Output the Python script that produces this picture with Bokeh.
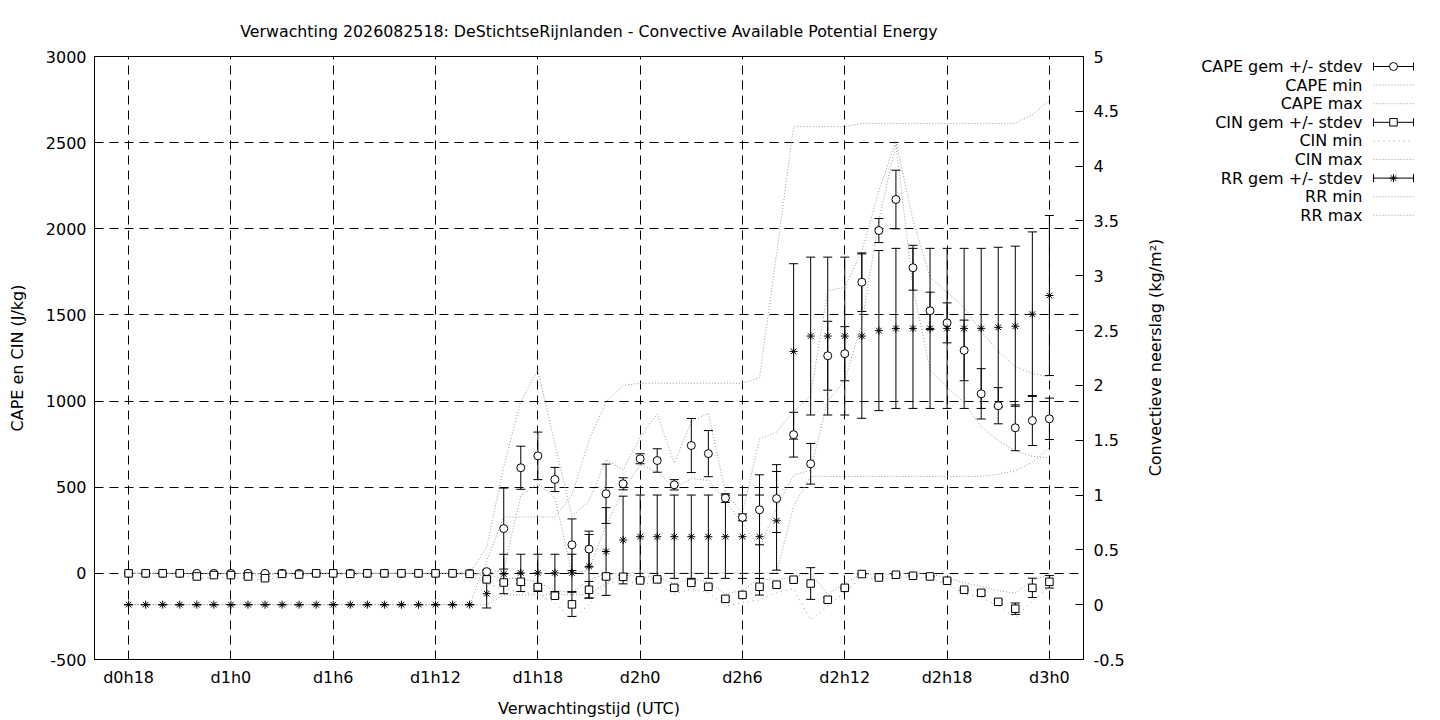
"""Ensemble forecast plot: CAPE, CIN and convective rain."""
from math import pi

from bokeh.core.properties import value
from bokeh.embed import file_html
from bokeh.layouts import row
from bokeh.models import ColumnDataSource, FixedTicker, LinearAxis, Range1d
from bokeh.plotting import figure
from bokeh.resources import INLINE

TITLE = ("Verwachting 2026082518: DeStichtseRijnlanden - "
         "Convective Available Potential Energy")

# forecast hour since d0h0 (one value per hour, d0h18 .. d3h0)
HOURS = list(range(18, 73))

CAPE_GEM = [0, 0, 0, 0, 0, 0, 0, 0, 0, 0, 0, 0, 0, 0, 0, 0, 0, 0, 0, 0, 0,
            10, 260, 613, 682, 545, 166, 141, 462, 520, 665, 655, 514, 742, 695,
            437, 325, 369, 434, 805, 636, 1263, 1275, 1690, 1990, 2170, 1774,
            1524, 1454, 1294, 1042, 973, 845, 887, 897]
CAPE_SD = [0, 0, 0, 0, 0, 0, 0, 0, 0, 0, 0, 0, 0, 0, 0, 0, 0, 0, 0, 0, 0,
           10, 235, 125, 138, 70, 150, 104, 172, 35, 29, 68, 30, 157, 134,
           25, 20, 203, 197, 130, 118, 200, 157, 170, 70, 170, 130,
           108, 116, 176, 146, 105, 133, 145, 120]
CAPE_MIN = [0, 0, 0, 0, 0, 0, 0, 0, 0, 0, 0, 0, 0, 0, 0, 0, 0, 0, 0, 0, 0,
            0, 20, 450, 520, 440, 0, 20, 280, 480, 630, 590, 495, 550, 540,
            420, 290, 150, 380, 570, 600, 1000, 1120, 1450, 2050, 2490, 1660,
            1180, 1080, 990, 850, 770, 710, 680, 670]
CAPE_MAX = [0, 0, 0, 0, 0, 0, 0, 0, 0, 0, 0, 0, 0, 0, 0, 0, 0, 0, 0, 0, 0,
            150, 620, 1000, 1180, 750, 330, 420, 660, 600, 790, 925, 640, 880, 930,
            470, 350, 780, 820, 940, 1030, 1640, 1660, 1870, 2220, 2510, 2050,
            1720, 1630, 1545, 1400, 1290, 1200, 1160, 1140]

CIN_GEM = [0, 0, 0, 0, -18, -10, -10, -18, -28, -3, -7, 0, 0, -3, 0, 0, 0, 0, 0, 0, -3,
           -35, -53, -49, -80, -130, -180, -95, -18, -20, -41, -35, -84, -55, -78,
           -148, -125, -78, -66, -37, -59, -153, -84, -4, -24, -8, -14,
           -18, -43, -95, -113, -165, -205, -84, -49]
CIN_SD = [0, 0, 0, 0, 8, 0, 5, 5, 8, 0, 0, 0, 0, 0, 0, 0, 0, 0, 0, 0, 0,
          10, 12, 12, 10, 12, 70, 48, 15, 8, 5, 5, 15, 5, 5,
          12, 8, 48, 10, 5, 92, 12, 5, 3, 5, 3, 3,
          3, 5, 5, 15, 10, 33, 56, 36]
CIN_MIN = [0, 0, 0, 0, -35, -20, -25, -30, -45, -15, -15, 0, 0, -10, 0, 0, 0, 0, 0, 0, -10,
           -60, -90, -110, -120, -170, -270, -180, -60, -40, -60, -60, -120, -90, -110,
           -190, -170, -155, -110, -90, -270, -190, -110, -20, -40, -20, -25,
           -30, -60, -120, -140, -190, -255, -160, -80]
CIN_MAX = [0, 0, 0, 0, -5, 0, 0, -5, -10, 0, 0, 0, 0, 0, 0, 0, 0, 0, 0, 0, 0,
           -10, -30, -30, -50, -100, -110, -40, 0, -5, -20, -20, -60, -30, -50,
           -120, -100, -30, -40, -20, 0, -120, -60, 0, -10, 0, 0,
           -5, -25, -55, -75, -100, -115, -40, -5]

RR_GEM = [0, 0, 0, 0, 0, 0, 0, 0, 0, 0, 0, 0, 0, 0, 0, 0, 0, 0, 0, 0, 0,
          0.1, 0.28, 0.29, 0.29, 0.29, 0.29, 0.35, 0.485, 0.59, 0.62, 0.62, 0.62, 0.62, 0.62,
          0.62, 0.62, 0.62, 0.765, 2.31, 2.45, 2.45, 2.45, 2.45, 2.5, 2.52, 2.52,
          2.52, 2.52, 2.52, 2.52, 2.53, 2.54, 2.65, 2.82]
RR_SD = [0, 0, 0, 0, 0, 0, 0, 0, 0, 0, 0, 0, 0, 0, 0, 0, 0, 0, 0, 0, 0,
         0.13, 0.18, 0.17, 0.17, 0.17, 0.17, 0.29, 0.4, 0.4, 0.38, 0.38, 0.38, 0.38, 0.38,
         0.38, 0.38, 0.38, 0.45, 0.8, 0.72, 0.72, 0.72, 0.75, 0.73, 0.73, 0.73,
         0.73, 0.73, 0.73, 0.73, 0.73, 0.73, 0.75, 0.73]
RR_MIN = [0, 0, 0, 0, 0, 0, 0, 0, 0, 0, 0, 0, 0, 0, 0, 0, 0, 0, 0, 0, 0,
          0, 0.09, 0.09, 0.09, 0.09, 0.09, 0.09, 0.2, 0.29, 0.29, 0.29, 0.29, 0.29, 0.29,
          0.29, 0.29, 0.29, 0.29, 0.9, 1.17, 1.17, 1.17, 1.17, 1.17, 1.17, 1.17,
          1.17, 1.17, 1.17, 1.17, 1.19, 1.22, 1.3, 1.43]
RR_MAX = [0, 0, 0, 0, 0, 0, 0, 0, 0, 0, 0, 0, 0, 0, 0, 0, 0, 0, 0, 0, 0,
          0.4, 0.8, 0.8, 0.8, 0.8, 1.0, 1.5, 1.85, 2.0, 2.02, 2.02, 2.02, 2.02, 2.02,
          2.02, 2.02, 2.07, 3.2, 4.36, 4.36, 4.36, 4.36, 4.39, 4.39, 4.39, 4.39,
          4.39, 4.39, 4.39, 4.39, 4.39, 4.39, 4.47, 4.6]

X_TICKS = [18, 24, 30, 36, 42, 48, 54, 60, 66, 72]
X_TICK_LABELS = ["d0h18", "d1h0", "d1h6", "d1h12", "d1h18",
                 "d2h0", "d2h6", "d2h12", "d2h18", "d3h0"]
Y_TICKS = [-500, 0, 500, 1000, 1500, 2000, 2500, 3000]
Y2_TICKS = [-0.5, 0, 0.5, 1, 1.5, 2, 2.5, 3, 3.5, 4, 4.5, 5]

LEGEND_LABELS = ["CAPE gem +/- stdev", "CAPE min", "CAPE max",
                 "CIN gem +/- stdev", "CIN min", "CIN max",
                 "RR gem +/- stdev", "RR min", "RR max"]

FONT = "DejaVu Sans"
FONT_SIZE = "16px"
DOT = "#9a9a9a"
GRID_DASH = "9 6"

# page geometry (px): plot frame and borders
FRAME_W, FRAME_H = 989, 603
BORDER_L, BORDER_R, BORDER_T, BORDER_B = 94, 55, 56, 59
LEGEND_W = 286


def style_axis(axis, ticks, standoff):
    # pylint:disable=missing-function-docstring
    axis.ticker = FixedTicker(ticks=ticks)
    axis.major_label_overrides = {t: f"{t:g}" for t in ticks}
    axis.axis_line_color = "black"
    axis.major_tick_line_color = "black"
    axis.major_tick_in = 8
    axis.major_tick_out = 0
    axis.minor_tick_line_color = None
    axis.major_label_standoff = standoff
    axis.major_label_text_font = FONT
    axis.major_label_text_font_size = FONT_SIZE
    axis.major_label_text_color = "black"
    axis.axis_label_text_font = FONT
    axis.axis_label_text_font_size = FONT_SIZE
    axis.axis_label_text_font_style = "normal"
    axis.axis_label_text_color = "black"


def error_bars(pic, source, low, high, range_name):
    # pylint:disable=missing-function-docstring
    pic.segment(x0="hour", y0=low, x1="hour", y1=high, source=source,
                line_color="black", line_width=1, y_range_name=range_name)
    for col in (low, high):
        pic.scatter("hour", col, source=source, marker="dash", size=9,
                    line_color="black", line_width=1, y_range_name=range_name)


def build_source():
    # pylint:disable=missing-function-docstring
    data = {
        "hour": HOURS,
        "cape": CAPE_GEM, "cape_min": CAPE_MIN, "cape_max": CAPE_MAX,
        "cin": CIN_GEM, "cin_min": CIN_MIN, "cin_max": CIN_MAX,
        "rr": RR_GEM, "rr_min": RR_MIN, "rr_max": RR_MAX,
    }
    for key, mean, sd in (("cape", CAPE_GEM, CAPE_SD), ("cin", CIN_GEM, CIN_SD),
                          ("rr", RR_GEM, RR_SD)):
        data[key + "_lo"] = [m - s for m, s in zip(mean, sd)]
        data[key + "_hi"] = [m + s for m, s in zip(mean, sd)]
    return ColumnDataSource(data=data)


def main_plot():
    # pylint:disable=missing-function-docstring
    pic = figure(frame_width=FRAME_W, frame_height=FRAME_H, title=TITLE,
                 x_range=Range1d(16, 74), y_range=Range1d(-500, 3000),
                 output_backend="svg", toolbar_location=None,
                 min_border_left=BORDER_L, min_border_right=BORDER_R,
                 min_border_top=BORDER_T, min_border_bottom=BORDER_B)
    pic.extra_y_ranges = {"rr": Range1d(-0.5, 5)}
    pic.add_layout(LinearAxis(y_range_name="rr"), "right")

    pic.title.text_font = FONT
    pic.title.text_font_size = "15.8px"
    pic.title.text_font_style = "normal"
    pic.title.text_color = "black"
    pic.title.align = "center"
    pic.title.standoff = 32

    pic.outline_line_color = "black"
    pic.outline_line_alpha = 1.0

    style_axis(pic.xaxis[0], X_TICKS, 8)
    pic.xaxis[0].major_label_overrides = dict(zip(X_TICKS, X_TICK_LABELS))
    pic.xaxis[0].axis_label = "Verwachtingstijd (UTC)"
    pic.xaxis[0].axis_label_standoff = 9

    left, right = pic.yaxis[0], pic.yaxis[1]
    style_axis(left, Y_TICKS, 8)
    left.axis_label = "CAPE en CIN (J/kg)"
    left.axis_label_standoff = 16
    style_axis(right, Y2_TICKS, 10)

    pic.xgrid.ticker = FixedTicker(ticks=X_TICKS)
    pic.ygrid.ticker = FixedTicker(ticks=Y_TICKS)
    for grid in (pic.xgrid, pic.ygrid):
        grid.grid_line_color = "black"
        grid.grid_line_dash = GRID_DASH
        grid.grid_line_width = 1

    src = build_source()

    # min / max envelopes, dotted
    for col, rng, dash in (("cape_min", "default", "1 2"), ("cape_max", "default", "1 2"),
                           ("cin_min", "default", "1 4"), ("cin_max", "default", "1 2"),
                           ("rr_min", "rr", "1 2"), ("rr_max", "rr", "1 2")):
        pic.line("hour", col, source=src, line_color=DOT, line_width=1,
                 line_dash=dash, y_range_name=rng)

    error_bars(pic, src, "cape_lo", "cape_hi", "default")
    error_bars(pic, src, "cin_lo", "cin_hi", "default")
    error_bars(pic, src, "rr_lo", "rr_hi", "rr")

    pic.scatter("hour", "cape", source=src, marker="circle", size=8,
                fill_color="white", line_color="black", line_width=1)
    pic.scatter("hour", "cin", source=src, marker="square", size=7.5,
                fill_color="white", line_color="black", line_width=1)
    pic.scatter("hour", "rr", source=src, marker="asterisk", size=8,
                line_color="black", line_width=1, y_range_name="rr")
    return pic


def legend_plot():
    # pylint:disable=missing-function-docstring
    # data units here are page pixels: x from the left edge of this panel,
    # y measured upwards from the bottom of the 720 px page
    page_h = 720
    pic = figure(frame_width=LEGEND_W, frame_height=FRAME_H,
                 x_range=Range1d(0, LEGEND_W),
                 y_range=Range1d(page_h - BORDER_T - FRAME_H, page_h - BORDER_T),
                 output_backend="svg", toolbar_location=None,
                 x_axis_location=None, y_axis_location=None,
                 min_border_left=0, min_border_right=0,
                 min_border_top=BORDER_T, min_border_bottom=BORDER_B)
    pic.grid.visible = False
    pic.outline_line_color = None

    rows = [page_h - (66 + 18.6 * i) for i in range(len(LEGEND_LABELS))]
    pic.text(x=[224] * len(rows), y=rows, text=LEGEND_LABELS,
             text_align="right", text_baseline="middle",
             text_font=value(FONT), text_font_size=FONT_SIZE, text_color="black")

    x0, x1 = 235, 275
    bars = [rows[0], rows[3], rows[6]]
    pic.segment(x0=[x0] * 3, y0=bars, x1=[x1] * 3, y1=bars, line_color="black")
    for xc in (x0, x1):
        pic.segment(x0=[xc] * 3, y0=[b - 4 for b in bars], x1=[xc] * 3,
                    y1=[b + 4 for b in bars], line_color="black")
    mid = (x0 + x1) / 2
    pic.scatter([mid], [rows[0]], marker="circle", size=8,
                fill_color="white", line_color="black")
    pic.scatter([mid], [rows[3]], marker="square", size=7.5,
                fill_color="white", line_color="black")
    pic.scatter([mid], [rows[6]], marker="asterisk", size=8, line_color="black")

    dotted = [rows[1], rows[2], rows[5], rows[7], rows[8]]
    pic.segment(x0=[x0] * 5, y0=dotted, x1=[x1] * 5, y1=dotted,
                line_color=DOT, line_dash="1 2")
    pic.segment(x0=[x0], y0=[rows[4]], x1=[x1], y1=[rows[4]],
                line_color=DOT, line_dash="1 4")

    pic.text(x=[17], y=[page_h - 357], text=["Convectieve neerslag (kg/m\u00b2)"],
             angle=pi / 2, text_align="center", text_baseline="middle",
             text_font=value(FONT), text_font_size=FONT_SIZE, text_color="black")
    return pic


layout = row(main_plot(), legend_plot())
open("out.html", "w").write(file_html(layout, INLINE))
